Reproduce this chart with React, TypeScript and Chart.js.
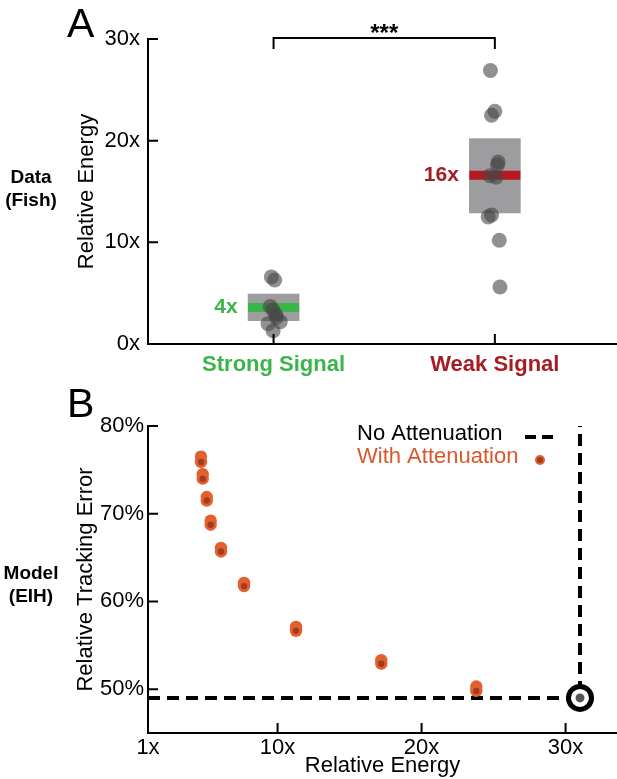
import React, { useEffect, useRef } from "react";
import { Chart, registerables } from "chart.js";

Chart.register(...registerables);

// ---------- Panel A data ----------
const categories = ["Strong Signal", "Weak Signal"];
const categoryColors = ["#3bb54a", "#a51d24"];
const medianColors = ["#3bb54a", "#b51a22"];
const medianLabels = ["4x", "16x"];
const categoryPos = [1, 2];
const boxLow = [2.3, 12.9];
const boxHigh = [4.9, 20.2];
const medians = [3.6, 16.6];

const strongX = [0.99, 1.005, 0.985, 0.998, 1.013, 1.03, 0.975, 0.998, 1.01];
const strongY = [6.6, 6.3, 3.7, 3.35, 2.6, 2.2, 2.0, 1.3, 2.9];
const weakX = [1.98, 2.0, 1.985, 2.015, 2.012, 1.978, 2.005, 1.985, 1.97, 2.02, 2.023];
const weakY = [26.9, 22.9, 22.5, 17.9, 17.6, 16.55, 16.4, 12.7, 12.5, 10.2, 5.6];

const energyTicksA = [0, 10, 20, 30];
const energyTickLabelsA = ["0x", "10x", "20x", "30x"];

// ---------- Panel B data ----------
const attenEnergy = [4.68, 4.8, 5.08, 5.35, 6.07, 7.67, 11.28, 17.2, 23.8];
const attenErrorUpper = [76.5, 74.5, 71.9, 69.2, 66.1, 62.1, 57.1, 53.3, 50.3];
const attenErrorLower = [75.9, 74.0, 71.5, 68.75, 65.7, 61.75, 56.65, 52.9, 49.8];
const noAttenEnergy = 31.0;
const noAttenError = 49.0;

const errorTicks = [50, 60, 70, 80];
const errorTickLabels = ["50%", "60%", "70%", "80%"];
const energyTicksB = [1, 10, 20, 30];
const energyTickLabelsB = ["1x", "10x", "20x", "30x"];

const FONT = "'Liberation Sans', Arial, Helvetica, sans-serif";
const ORANGE = "#e2602f";
const ORANGE_DARK = "#a63a1d";

function drawInwardTicks(chart: any) {
  const { ctx, chartArea, scales } = chart;
  ctx.save();
  ctx.strokeStyle = "#000";
  ctx.lineWidth = 2;
  ctx.beginPath();
  scales.x.ticks.forEach((t: any) => {
    const px = scales.x.getPixelForValue(t.value);
    ctx.moveTo(px, chartArea.bottom);
    ctx.lineTo(px, chartArea.bottom - 10);
  });
  scales.y.ticks.forEach((t: any) => {
    const py = scales.y.getPixelForValue(t.value);
    ctx.moveTo(chartArea.left, py);
    ctx.lineTo(chartArea.left + 10, py);
  });
  ctx.stroke();
  ctx.restore();
}

function drawRowLabel(ctx: any, lines: string[], cy: number) {
  ctx.save();
  ctx.font = `bold 19px ${FONT}`;
  ctx.fillStyle = "#000";
  ctx.textAlign = "center";
  ctx.textBaseline = "middle";
  ctx.fillText(lines[0], 31, cy - 11);
  ctx.fillText(lines[1], 31, cy + 12);
  ctx.restore();
}

function drawPanelLetter(ctx: any, letter: string) {
  ctx.save();
  ctx.font = `41px ${FONT}`;
  ctx.fillStyle = "#000";
  ctx.textAlign = "left";
  ctx.textBaseline = "alphabetic";
  ctx.fillText(letter, 67, 37);
  ctx.restore();
}

const annotA = {
  id: "annotA",
  afterDraw(chart: any) {
    const { ctx, chartArea, scales } = chart;
    drawInwardTicks(chart);
    drawPanelLetter(ctx, "A");
    drawRowLabel(ctx, ["Data", "(Fish)"], 189);
    const x1 = scales.x.getPixelForValue(categoryPos[0]);
    const x2 = scales.x.getPixelForValue(categoryPos[1]);
    const yTop = chartArea.top - 1;
    ctx.save();
    ctx.strokeStyle = "#000";
    ctx.lineWidth = 2;
    ctx.beginPath();
    ctx.moveTo(x1, yTop + 11);
    ctx.lineTo(x1, yTop);
    ctx.lineTo(x2, yTop);
    ctx.lineTo(x2, yTop + 11);
    ctx.stroke();
    ctx.font = `bold 24px ${FONT}`;
    ctx.fillStyle = "#000";
    ctx.textAlign = "center";
    ctx.textBaseline = "alphabetic";
    ctx.fillText("***", (x1 + x2) / 2, yTop + 3);
    ctx.font = `bold 21px ${FONT}`;
    ctx.textAlign = "right";
    ctx.textBaseline = "middle";
    categoryPos.forEach((c, i) => {
      const px = scales.x.getPixelForValue(c);
      const py = scales.y.getPixelForValue(medians[i]);
      ctx.fillStyle = categoryColors[i];
      ctx.fillText(medianLabels[i], px - 26 - 10, py);
    });
    ctx.restore();
  },
};

const annotB = {
  id: "annotB",
  afterDraw(chart: any) {
    const { ctx, chartArea } = chart;
    drawInwardTicks(chart);
    drawPanelLetter(ctx, "B");
    drawRowLabel(ctx, ["Model", "(EIH)"], 205);
    const lx = 357;
    const ly1 = chartArea.top + 8;
    const ly2 = chartArea.top + 31;
    ctx.save();
    ctx.font = `22px ${FONT}`;
    ctx.textAlign = "left";
    ctx.textBaseline = "middle";
    ctx.fillStyle = "#000";
    ctx.fillText("No Attenuation", lx, ly1);
    ctx.fillStyle = "#d9572b";
    ctx.fillText("With Attenuation", lx, ly2);
    ctx.strokeStyle = "#000";
    ctx.lineWidth = 4;
    ctx.beginPath();
    ctx.moveTo(525, ly1 + 3);
    ctx.lineTo(536, ly1 + 3);
    ctx.moveTo(542, ly1 + 3);
    ctx.lineTo(553, ly1 + 3);
    ctx.stroke();
    ctx.fillStyle = ORANGE;
    ctx.beginPath();
    ctx.arc(540, ly2 + 3, 5, 0, Math.PI * 2);
    ctx.fill();
    ctx.fillStyle = ORANGE_DARK;
    ctx.beginPath();
    ctx.arc(540, ly2 + 3, 3, 0, Math.PI * 2);
    ctx.fill();
    ctx.restore();
  },
};

function fixedTicks(values: number[]) {
  return (scale: any) => {
    scale.ticks = values.map((v) => ({ value: v }));
  };
}

function fitX(h: number) {
  return (s: any) => {
    s.height = h;
    s.paddingLeft = 0;
    s.paddingRight = 0;
  };
}

function fitY(w: number) {
  return (s: any) => {
    s.width = w;
    s.paddingTop = 0;
    s.paddingBottom = 0;
  };
}

function PanelA() {
  const ref = useRef<HTMLCanvasElement | null>(null);
  useEffect(() => {
    if (!ref.current) return;
    const chart = new Chart(ref.current, {
      type: "scatter",
      data: {
        datasets: [
          {
            type: "scatter",
            data: [
              ...strongX.map((x, i) => ({ x, y: strongY[i] })),
              ...weakX.map((x, i) => ({ x, y: weakY[i] })),
            ],
            pointRadius: 7.5,
            backgroundColor: "rgba(70,70,70,0.6)",
            borderWidth: 0,
            order: 1,
          } as any,
          {
            type: "scatter",
            data: categoryPos.map((x, i) => ({ x, y: medians[i] })),
            pointStyle: "line",
            pointRadius: 25.5,
            borderWidth: 9,
            borderColor: medianColors,
            backgroundColor: medianColors,
            order: 2,
          } as any,
          {
            type: "bar",
            data: categoryPos.map((x, i) => ({ x, y: [boxLow[i], boxHigh[i]] })),
            backgroundColor: "rgba(140,140,142,0.85)",
            borderWidth: 0,
            barThickness: 51,
            grouped: false,
            order: 3,
          } as any,
        ],
      },
      options: {
        responsive: false,
        animation: false,
        events: [],
        layout: { autoPadding: false, padding: { top: 39, left: 0, right: 0, bottom: 0 } },
        plugins: { legend: { display: false }, tooltip: { enabled: false } },
        scales: {
          x: {
            type: "linear",
            min: 0.4325,
            max: 2.552,
            offset: false,
            grid: { display: false, drawTicks: false },
            border: { display: true, color: "#000", width: 2 },
            afterBuildTicks: fixedTicks(categoryPos),
            afterFit: fitX(36),
            ticks: {
              autoSkip: false,
              maxRotation: 0,
              padding: 8,
              font: { family: FONT, size: 22, weight: "bold" },
              color: (c: any) => categoryColors[c.index] || "#000",
              callback: (_v: any, i: number) => categories[i],
            },
          },
          y: {
            type: "linear",
            min: 0,
            max: 30,
            grid: { display: false, drawTicks: false },
            border: { display: true, color: "#000", width: 2 },
            afterBuildTicks: fixedTicks(energyTicksA),
            afterFit: fitY(148),
            ticks: {
              padding: 8,
              color: "#000",
              font: { family: FONT, size: 22 },
              callback: (_v: any, i: number) => energyTickLabelsA[i],
            },
            title: {
              display: true,
              text: "Relative Energy",
              color: "#000",
              font: { family: FONT, size: 22 },
              padding: { top: 74, bottom: 0 },
            },
          },
        },
      },
      plugins: [annotA],
    } as any);
    return () => chart.destroy();
  }, []);
  return <canvas ref={ref} width={617} height={380} style={{ display: "block" }} />;
}

function PanelB() {
  const ref = useRef<HTMLCanvasElement | null>(null);
  useEffect(() => {
    if (!ref.current) return;
    const outerPts = [
      ...attenEnergy.map((x, i) => ({ x, y: attenErrorUpper[i] })),
      ...attenEnergy.map((x, i) => ({ x, y: attenErrorLower[i] })),
    ];
    const innerPts = attenEnergy.map((x, i) => ({ x, y: attenErrorLower[i] }));
    const chart = new Chart(ref.current, {
      type: "scatter",
      data: {
        datasets: [
          {
            type: "scatter",
            data: [{ x: noAttenEnergy, y: noAttenError }],
            pointRadius: 4.5,
            backgroundColor: "#555",
            borderWidth: 0,
            order: 1,
          } as any,
          {
            type: "scatter",
            data: [{ x: noAttenEnergy, y: noAttenError }],
            pointRadius: 11.5,
            backgroundColor: "#fff",
            borderColor: "#000",
            borderWidth: 5,
            order: 2,
          } as any,
          {
            type: "scatter",
            data: innerPts,
            pointRadius: 3.2,
            backgroundColor: ORANGE_DARK,
            borderWidth: 0,
            order: 3,
          } as any,
          {
            type: "scatter",
            data: outerPts,
            pointRadius: 6.2,
            backgroundColor: ORANGE,
            borderWidth: 0,
            order: 4,
          } as any,
          {
            type: "line",
            data: [
              { x: 1, y: noAttenError },
              { x: noAttenEnergy, y: noAttenError },
              { x: noAttenEnergy, y: 80 },
            ],
            borderColor: "#000",
            borderWidth: 4,
            borderDash: [12, 7],
            pointRadius: 0,
            tension: 0,
            fill: false,
            showLine: true,
            order: 5,
          } as any,
        ],
      },
      options: {
        responsive: false,
        animation: false,
        events: [],
        layout: { autoPadding: false, padding: { top: 46, left: 0, right: 0, bottom: 0 } },
        plugins: { legend: { display: false }, tooltip: { enabled: false } },
        scales: {
          x: {
            type: "linear",
            min: 1,
            max: 33.57,
            grid: { display: false, drawTicks: false },
            border: { display: true, color: "#000", width: 2 },
            afterBuildTicks: fixedTicks(energyTicksB),
            afterFit: fitX(46),
            ticks: {
              autoSkip: false,
              maxRotation: 0,
              padding: 2,
              color: "#000",
              font: { family: FONT, size: 22 },
              callback: (_v: any, i: number) => energyTickLabelsB[i],
            },
            title: {
              display: true,
              text: "Relative Energy",
              color: "#000",
              font: { family: FONT, size: 22 },
              padding: { top: 0, bottom: 0 },
            },
          },
          y: {
            type: "linear",
            min: 45,
            max: 80,
            grid: { display: false, drawTicks: false },
            border: { display: true, color: "#000", width: 2 },
            afterBuildTicks: fixedTicks(errorTicks),
            afterFit: fitY(148),
            ticks: {
              padding: 4,
              color: "#000",
              font: { family: FONT, size: 22 },
              callback: (_v: any, i: number) => errorTickLabels[i],
            },
            title: {
              display: true,
              text: "Relative Tracking Error",
              color: "#000",
              font: { family: FONT, size: 22 },
              padding: { top: 73, bottom: 0 },
            },
          },
        },
      },
      plugins: [annotB],
    } as any);
    return () => chart.destroy();
  }, []);
  return <canvas ref={ref} width={617} height={399} style={{ display: "block" }} />;
}

export default function App() {
  return (
    <div
      style={{
        position: "absolute",
        left: 0,
        top: 0,
        width: 617,
        height: 779,
        background: "#fff",
        overflow: "hidden",
      }}
    >
      <PanelA />
      <PanelB />
    </div>
  );
}
